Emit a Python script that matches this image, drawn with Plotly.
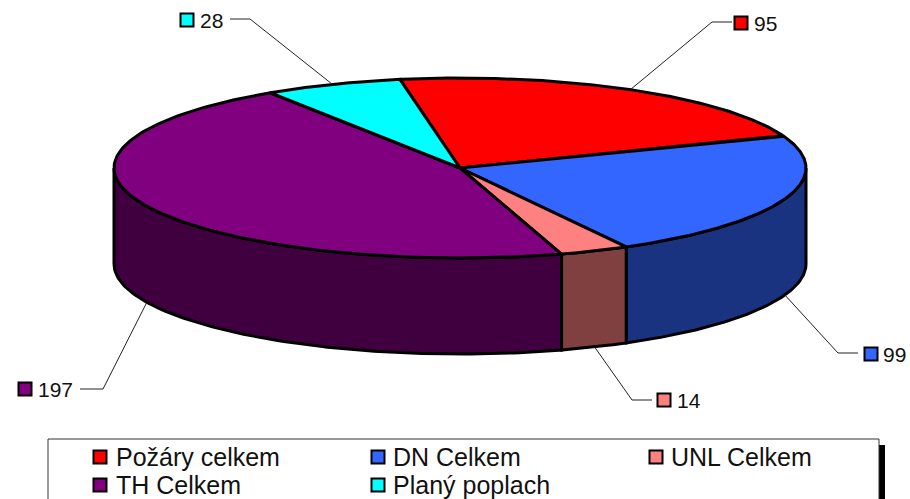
import numpy as np
import plotly.graph_objects as go

categories = ["Požáry celkem", "DN Celkem", "UNL Celkem", "TH Celkem", "Planý poplach"]
values = [95, 99, 14, 197, 28]
value_labels = ["95", "99", "14", "197", "28"]
top_colors = ["#FF0000", "#3366FF", "#FF8080", "#800080", "#00FFFF"]
side_colors = ["#800000", "#1A3380", "#804040", "#400040", "#008080"]

W, H = 910, 499
CX, CY, RX, RY, DEPTH = 460, 168, 346, 90, 96
START_DEG = -10.0
FONT = "Liberation Sans, Arial, sans-serif"

# elbow of each leader, end of leader, label y, label marker x, label text x (pixels)
leader_elbow = [(712, 22), (838, 353), (632, 400), (103, 389), (250, 19)]
leader_end = [(732, 22), (858, 353), (652, 400), (80, 389), (230, 19)]
label_y = [23, 354, 400, 389, 20]
label_marker_x = [741, 871, 664, 25, 187]
label_text_x = [754, 883, 677, 38, 200]
legend_marker_xy = [(100, 457), (378, 457), (656, 457), (100, 485), (378, 485)]
legend_text_x = [116, 393, 671, 116, 393]


def pt(deg, drop=0.0):
    a = np.radians(deg)
    return CX + RX * np.sin(a), CY - RY * np.cos(a) + drop


fig = go.Figure()


def poly(xs, ys, fill=None, width=3, color="black"):
    fig.add_trace(go.Scatter(
        x=xs, y=ys, mode="lines", hoverinfo="skip", showlegend=False,
        fill="toself" if fill else None, fillcolor=fill,
        line=dict(color=color, width=width, shape="linear"),
    ))


total = sum(values)
angles = [START_DEG]
for v in values:
    angles.append(angles[-1] + v / total * 360)

# Legend box (behind everything else)
fig.add_shape(type="rect", x0=879, x1=885, y0=445, y1=510, fillcolor="black", line_width=0, layer="below")
fig.add_shape(type="rect", x0=48, x1=879, y0=439, y1=510, fillcolor="white",
              line=dict(color="#333333", width=1), layer="below")

# Visible side walls: the front half of the ellipse
for i in range(len(values)):
    a0 = max(angles[i], 90)
    a1 = min(angles[i + 1], 270)
    if a1 <= a0:
        continue
    t = np.linspace(a0, a1, 120)
    xt, yt = pt(t)
    xb, yb = pt(t[::-1], DEPTH)
    poly(np.r_[xt, xb, xt[0]], np.r_[yt, yb, yt[0]], fill=side_colors[i])

# Top slices
for i in range(len(values)):
    t = np.linspace(angles[i], angles[i + 1], 200)
    xt, yt = pt(t)
    poly(np.r_[CX, xt, CX], np.r_[CY, yt, CY], fill=top_colors[i])

# Leader lines and data labels
for i in range(len(values)):
    mid = (angles[i] + angles[i + 1]) / 2
    front = 90 < (mid % 360) < 270
    x0, y0 = pt(mid, DEPTH if front else 0)
    ex, ey = leader_elbow[i]
    fx, fy = leader_end[i]
    poly([x0, ex, fx], [y0, ey, fy], width=1, color="#222222")
    fig.add_trace(go.Scatter(
        x=[label_marker_x[i]], y=[label_y[i]], mode="markers", hoverinfo="skip", showlegend=False,
        marker=dict(symbol="square", size=13, color=top_colors[i], line=dict(color="black", width=2)),
    ))
    fig.add_annotation(x=label_text_x[i], y=label_y[i], text=value_labels[i], showarrow=False,
                       xanchor="left", yanchor="middle", xref="x", yref="y",
                       font=dict(family=FONT, size=21, color="#111111"), borderpad=0, borderwidth=0)

# Legend entries
for i, name in enumerate(categories):
    mx, my = legend_marker_xy[i]
    fig.add_trace(go.Scatter(
        x=[mx], y=[my], mode="markers", hoverinfo="skip", showlegend=False,
        marker=dict(symbol="square", size=13, color=top_colors[i], line=dict(color="black", width=2)),
    ))
    fig.add_annotation(x=legend_text_x[i], y=my, text=name, showarrow=False,
                       xanchor="left", yanchor="middle", xref="x", yref="y",
                       font=dict(family=FONT, size=25, color="#111111"), borderpad=0, borderwidth=0)

fig.update_layout(
    width=W, height=H, margin=dict(l=0, r=0, t=0, b=0),
    paper_bgcolor="white", plot_bgcolor="white", showlegend=False,
    xaxis=dict(range=[0, W], visible=False, fixedrange=True),
    yaxis=dict(range=[H, 0], visible=False, fixedrange=True),
)
fig.write_html("out.html", config={"displayModeBar": False},
               post_script="document.body.style.margin='0';document.body.style.overflow='hidden';")
